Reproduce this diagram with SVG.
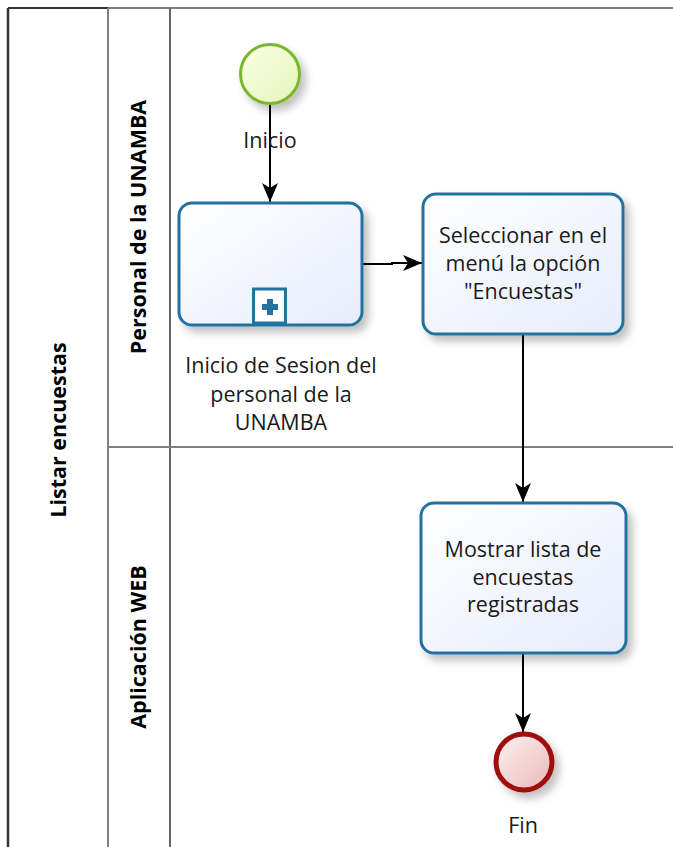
<svg xmlns="http://www.w3.org/2000/svg" width="673" height="847" viewBox="0 0 673 847">
<style>
.lane{fill:none;stroke:#808080;stroke-width:2}
.task{stroke:#23729f;stroke-width:3;fill:url(#gTask)}
.lbl{font-family:"Open Sans","DejaVu Sans",sans-serif;font-size:21.5px;fill:#1a1a1a;text-anchor:middle}
.hdr{font-family:"Open Sans","DejaVu Sans",sans-serif;font-size:21.5px;font-weight:bold;fill:#000;text-anchor:middle}
.flow{fill:none;stroke:#000;stroke-width:2}
</style>
<defs>
<linearGradient id="gTask" x1="0" y1="0" x2="1" y2="1">
<stop offset="0" stop-color="#ffffff"/>
<stop offset="1" stop-color="#e6ecfb"/>
</linearGradient>
<linearGradient id="gStart" x1="0" y1="0" x2="1" y2="1">
<stop offset="0" stop-color="#fbfee8"/>
<stop offset="1" stop-color="#e4f5b8"/>
</linearGradient>
<linearGradient id="gEnd" x1="0" y1="0" x2="1" y2="1">
<stop offset="0" stop-color="#fdf2f2"/>
<stop offset="1" stop-color="#eab8b8"/>
</linearGradient>
<filter id="sh" x="-20%" y="-20%" width="150%" height="150%">
<feGaussianBlur in="SourceAlpha" stdDeviation="4"/>
<feOffset dx="5" dy="6" result="b"/>
<feComponentTransfer><feFuncA type="linear" slope="0.25"/></feComponentTransfer>
<feMerge><feMergeNode/><feMergeNode in="SourceGraphic"/></feMerge>
</filter>
<marker id="arr" viewBox="0 0 20 20" refX="19" refY="10" markerWidth="20" markerHeight="20" markerUnits="userSpaceOnUse" orient="auto">
<path d="M0,2 L19,10 L0,18 L5,10 Z" fill="#000"/>
</marker>
</defs>

<g id="pool">
<line x1="8" y1="8" x2="8" y2="847" stroke="#333" stroke-width="2.5"/>
<line x1="8" y1="8" x2="108" y2="8" stroke="#333" stroke-width="2"/>
<line x1="108" y1="8" x2="673" y2="8" class="lane"/>
<line x1="108" y1="8" x2="108" y2="847" class="lane"/>
<line x1="170" y1="8" x2="170" y2="847" stroke="#666" stroke-width="2"/>
<line x1="108" y1="447" x2="673" y2="447" class="lane"/>
<text class="hdr" transform="translate(66,430) rotate(-90)">Listar encuestas</text>
</g>
<g id="lane1">
<text class="hdr" transform="translate(146,227) rotate(-90)">Personal de la UNAMBA</text>
</g>
<g id="lane2">
<text class="hdr" transform="translate(146,647) rotate(-90)">Aplicación WEB</text>
</g>

<g id="connectors">
<line class="flow" x1="270" y1="104" x2="270" y2="202" marker-end="url(#arr)"/>
<polyline class="flow" points="362,264 392,264 392,263 422,263" marker-end="url(#arr)"/>
<line class="flow" x1="523" y1="334" x2="523" y2="502" marker-end="url(#arr)"/>
<line class="flow" x1="523" y1="653" x2="523" y2="732" marker-end="url(#arr)"/>
</g>

<g id="start">
<circle cx="270" cy="74" r="29.5" fill="url(#gStart)" stroke="#79b82a" stroke-width="3" filter="url(#sh)"/>
<text class="lbl" x="270" y="148">Inicio</text>
</g>

<g id="subprocess">
<rect class="task" x="179" y="203" width="183" height="122" rx="13" filter="url(#sh)"/>
<rect x="253.5" y="289" width="32" height="34" fill="#fff" stroke="#23729f" stroke-width="3"/>
<path d="M267,299 h6 v5 h5 v6 h-5 v5 h-6 v-5 h-5 v-6 h5 z" fill="#23729f"/>
<text class="lbl" x="281" y="373">Inicio de Sesion del</text>
<text class="lbl" x="281" y="402">personal de la</text>
<text class="lbl" x="281" y="430">UNAMBA</text>
</g>

<g id="task1">
<rect class="task" x="423" y="194" width="200" height="140" rx="13" filter="url(#sh)"/>
<text class="lbl" x="523" y="243">Seleccionar en el</text>
<text class="lbl" x="523" y="271">menú la opción</text>
<text class="lbl" x="523" y="299">"Encuestas"</text>
</g>

<g id="task2">
<rect class="task" x="421" y="503" width="205" height="150" rx="13" filter="url(#sh)"/>
<text class="lbl" x="523" y="557">Mostrar lista de</text>
<text class="lbl" x="523" y="585">encuestas</text>
<text class="lbl" x="523" y="612">registradas</text>
</g>

<g id="end">
<circle cx="524" cy="762" r="28" fill="url(#gEnd)" stroke="#a00d0d" stroke-width="5" filter="url(#sh)"/>
<text class="lbl" x="523" y="833">Fin</text>
</g>
</svg>
